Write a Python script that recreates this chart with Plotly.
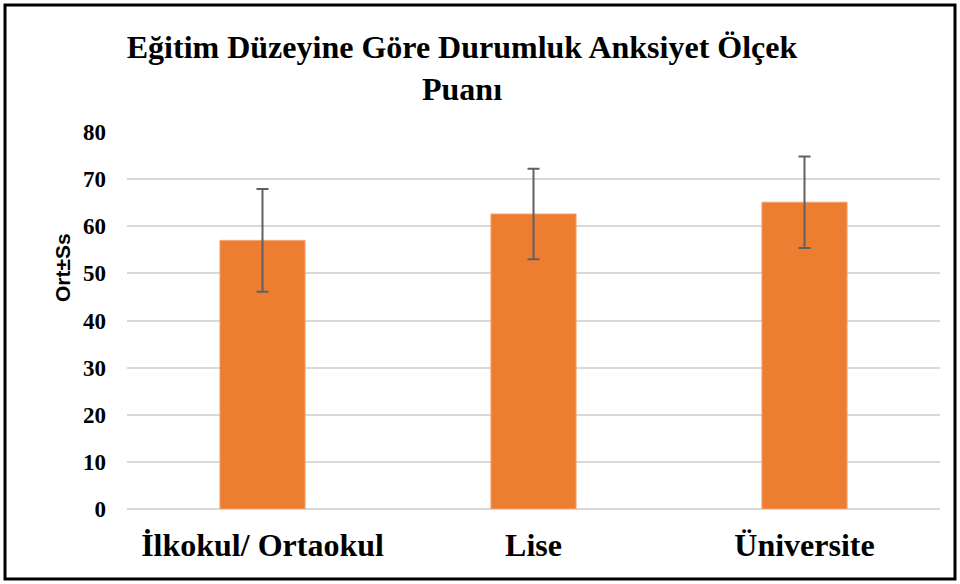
import plotly.graph_objects as go

categories = ["İlkokul/ Ortaokul", "Lise", "Üniversite"]
means = [57.0, 62.6, 65.1]
sds = [10.9, 9.6, 9.7]
y_ticks = [0, 10, 20, 30, 40, 50, 60, 70, 80]

W, H = 960, 584
L, R, T, B = 127, 20, 132, 75
pw, ph = W - L - R, H - T - B

fig = go.Figure(go.Bar(
    x=categories, y=means,
    marker=dict(color="#ED7D31", line=dict(color="#F3A26E", width=1)),
    error_y=dict(type="data", array=sds, visible=True, color="#606060",
                 thickness=2, width=6),
    width=0.314,
))

def px_x(p):
    return (p - L) / pw

def px_y(p):
    return (H - B - p) / ph

fig.add_shape(type="rect", xref="paper", yref="paper",
              x0=px_x(5), x1=px_x(955), y0=px_y(5), y1=px_y(579),
              line=dict(color="black", width=3), fillcolor="rgba(0,0,0,0)",
              layer="above")

fig.add_annotation(text="Ort±Ss", xref="paper", yref="paper",
                   x=px_x(62), y=px_y(268), showarrow=False, textangle=-90,
                   font=dict(family="Liberation Sans, Arial", size=21, color="black",
                             weight="bold"),
                   xanchor="center", yanchor="middle")

fig.update_layout(
    width=W, height=H,
    margin=dict(l=L, r=R, t=T, b=B),
    paper_bgcolor="white", plot_bgcolor="white",
    showlegend=False,
    title=dict(text="Eğitim Düzeyine Göre Durumluk Anksiyet Ölçek<br>Puanı",
               x=462 / W, xanchor="center", y=1 - 58 / H, yanchor="middle",
               yref="container",
               font=dict(family="Liberation Serif, Times New Roman", size=32,
                         color="black", weight="bold")),
    font=dict(family="Liberation Serif, Times New Roman", color="black"),
)
fig.update_xaxes(showgrid=False, showline=False, ticks="", ticklabelstandoff=14,
                 tickfont=dict(family="Liberation Serif", size=32, color="black",
                               weight="bold"))
fig.update_yaxes(range=[0, 80], tickvals=y_ticks, showgrid=True, gridcolor="#D9D9D9",
                 gridwidth=1.5, zeroline=True, zerolinecolor="#D9D9D9", zerolinewidth=1.5,
                 showline=False, ticks="", ticklabelstandoff=20,
                 tickfont=dict(family="Liberation Serif", size=23, color="black",
                               weight="bold"))

fig.write_html("out.html", config={"displayModeBar": False},
               post_script="document.body.style.margin='0';")
